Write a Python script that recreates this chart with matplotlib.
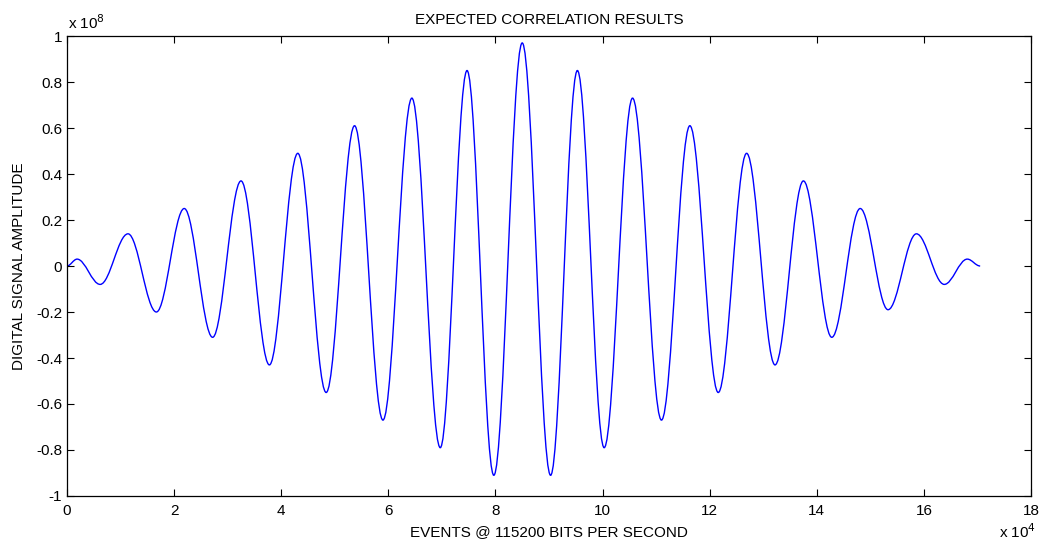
import matplotlib
matplotlib.use("Agg")
import matplotlib.pyplot as plt
from matplotlib.path import Path
from matplotlib.patches import PathPatch
from matplotlib.ticker import FuncFormatter

# ----------------- DATA -----------------
# x in units of 1e4 events, y in units of 1e8
START = (0.0, 0.0)
END = (17.05, 0.0)

EXT_X = [0.19, 0.62, 1.14, 1.67, 2.19, 2.72, 3.25, 3.78, 4.31, 4.84,
         5.37, 5.90, 6.44, 6.97, 7.47, 7.97, 8.50, 9.03, 9.53, 10.03,
         10.56, 11.10, 11.63, 12.16, 12.69, 13.22, 13.75, 14.28, 14.81,
         15.33, 15.86, 16.38, 16.81]
EXT_Y = [0.03, -0.08, 0.14, -0.20, 0.25, -0.31, 0.37, -0.43, 0.49, -0.55,
         0.61, -0.67, 0.73, -0.79, 0.85, -0.91, 0.97, -0.91, 0.85, -0.79,
         0.73, -0.67, 0.61, -0.55, 0.49, -0.43, 0.37, -0.31, 0.25, -0.19,
         0.14, -0.08, 0.03]

X_TICKS = [0, 2, 4, 6, 8, 10, 12, 14, 16, 18]
Y_TICKS = [-1, -0.8, -0.6, -0.4, -0.2, 0, 0.2, 0.4, 0.6, 0.8, 1]

TITLE = "EXPECTED CORRELATION RESULTS"
XLABEL = "EVENTS @ 115200 BITS PER SECOND"
YLABEL = "DIGITAL SIGNAL AMPLITUDE"

FS = 11

# ----------------- FIGURE -----------------
plt.rcParams['font.family'] = ['Liberation Sans', 'DejaVu Sans']
fig = plt.figure(figsize=(10.46, 5.5), dpi=100, facecolor='white')
ax = fig.add_axes([0.064, 0.0982, 0.9217, 0.8363])

# smooth curve: cubic bezier segments between the read extrema
pts = [START] + list(zip(EXT_X, EXT_Y)) + [END]
verts = [pts[0]]
codes = [Path.MOVETO]
for (x0, y0), (x1, y1) in zip(pts[:-1], pts[1:]):
    dx = x1 - x0
    verts += [(x0 + dx * 0.36, y0), (x1 - dx * 0.36, y1), (x1, y1)]
    codes += [Path.CURVE4] * 3
ax.add_patch(PathPatch(Path(verts, codes), fill=False,
                       edgecolor='#0000ff', linewidth=1.0))

ax.set_xlim(0, 18)
ax.set_ylim(-1, 1)
ax.set_xticks(X_TICKS)
ax.set_yticks(Y_TICKS)
ax.yaxis.set_major_formatter(FuncFormatter(lambda v, p: f"{v:g}"))
ax.tick_params(direction='in', length=5, width=0.8, top=True, right=True,
               labelsize=FS, colors='black')
ax.tick_params(axis='x', pad=6)
ax.tick_params(axis='y', pad=3.5)
for s in ax.spines.values():
    s.set_linewidth(0.9)

ax.set_title(TITLE, fontsize=FS, pad=8.5)
ax.set_xlabel(XLABEL, fontsize=FS, labelpad=5)
ax.set_ylabel(YLABEL, fontsize=FS, labelpad=7)

# MATLAB-style exponent labels
fig.text(0.065, 0.948, r"x 10$^{8}$", fontsize=FS, ha='left', va='baseline')
fig.text(0.955, 0.022, r"x 10$^{4}$", fontsize=FS, ha='left', va='baseline')

fig.savefig("out.png", dpi=100, facecolor='white')
